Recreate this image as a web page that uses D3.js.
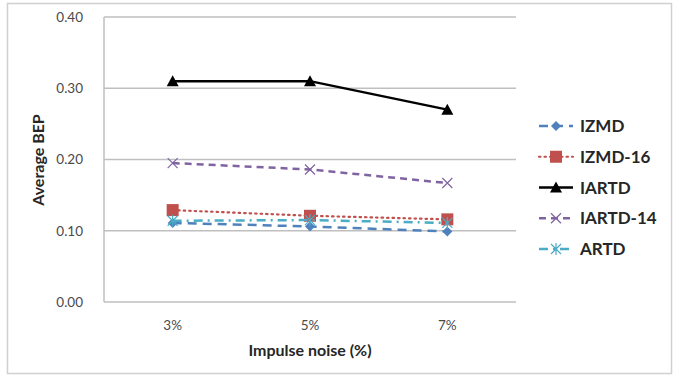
<!DOCTYPE html>
<html><head><meta charset="utf-8">
<script src="https://cdn.jsdelivr.net/npm/d3@7"></script>
<style>body{margin:0;background:#fff}svg{display:block}text{font-family:Lato,"Open Sans",sans-serif}</style>
</head><body><svg id="c" width="679" height="381"></svg>
<script>
const categories = ["3%", "5%", "7%"];
const yTicks = [0, 0.1, 0.2, 0.3, 0.4];
const seriesNames = ["IZMD", "IZMD-16", "IARTD", "IARTD-14", "ARTD"];
const IZMD = [0.111, 0.106, 0.099];
const IZMD16 = [0.129, 0.121, 0.116];
const IARTD = [0.310, 0.310, 0.270];
const IARTD14 = [0.195, 0.186, 0.167];
const ARTD = [0.114, 0.115, 0.111];

const styles = [
  {color:"#4F81BD", dash:"9,6", width:2.5, marker:"diamond"},
  {color:"#C0504D", dash:"1.5,4", width:2.2, marker:"square"},
  {color:"#000000", dash:null, width:2.5, marker:"triangle"},
  {color:"#8064A2", dash:"7,5", width:2.5, marker:"x"},
  {color:"#4BACC6", dash:"9,5,2,5", width:2.5, marker:"star"}
];
const data = [IZMD, IZMD16, IARTD, IARTD14, ARTD];

const svg = d3.select("#c");
svg.append("rect").attr("x",7.5).attr("y",3.5).attr("width",664).attr("height",370)
  .attr("fill","#fff").attr("stroke","#d0d0d0").attr("stroke-width",1.5);

const L=104, R=516, T=17, B=302;
const x = d3.scaleBand().domain(categories).range([L,R]);
const y = d3.scaleLinear().domain([0,0.4]).range([B,T]);

svg.append("g").selectAll("line").data(yTicks).join("line")
  .attr("x1",L).attr("x2",R).attr("y1",d=>y(d)).attr("y2",d=>y(d))
  .attr("stroke","#bfbfbf").attr("stroke-width",1.5);
svg.append("line").attr("x1",L).attr("x2",L).attr("y1",T).attr("y2",B)
  .attr("stroke","#bfbfbf").attr("stroke-width",1.5);

const yAxis = d3.axisLeft(y).tickValues(yTicks).tickFormat(d3.format(".2f")).tickSize(0).tickPadding(21);
const gy = svg.append("g").attr("transform",`translate(${L},0)`).call(yAxis);
gy.select(".domain").remove();
gy.selectAll("text").attr("font-size",13.5).attr("fill","#4a4a4a").style("font-family","Lato, 'Open Sans', sans-serif");

const xAxis = d3.axisBottom(x).tickSize(0).tickPadding(18);
const gx = svg.append("g").attr("transform",`translate(0,${B})`).call(xAxis);
gx.select(".domain").remove();
gx.selectAll("text").attr("font-size",13.5).attr("fill","#4a4a4a").style("font-family","Lato, 'Open Sans', sans-serif");

svg.append("text").attr("x",(L+R)/2).attr("y",356).attr("text-anchor","middle")
  .attr("font-size",16).attr("font-weight","bold").attr("fill","#262626").text("Impulse noise (%)");
svg.append("text").attr("transform","translate(44,160) rotate(-90)").attr("text-anchor","middle")
  .attr("font-size",16).attr("font-weight","bold").attr("fill","#262626").text("Average BEP");

function marker(g, type, color, cx, cy, s){
  s = s||1;
  if(type==="diamond"){
    g.append("path").attr("d",`M${cx},${cy-5*s}L${cx+5*s},${cy}L${cx},${cy+5*s}L${cx-5*s},${cy}Z`).attr("fill",color);
  } else if(type==="square"){
    g.append("rect").attr("x",cx-6*s).attr("y",cy-6*s).attr("width",12*s).attr("height",12*s).attr("fill",color);
  } else if(type==="triangle"){
    g.append("path").attr("d",`M${cx},${cy-6*s}L${cx+6*s},${cy+5*s}L${cx-6*s},${cy+5*s}Z`).attr("fill",color);
  } else if(type==="x"){
    g.append("path").attr("d",`M${cx-5*s},${cy-5*s}L${cx+5*s},${cy+5*s}M${cx-5*s},${cy+5*s}L${cx+5*s},${cy-5*s}`).attr("stroke",color).attr("stroke-width",1.2).attr("fill","none");
  } else if(type==="star"){
    g.append("path").attr("d",`M${cx-5*s},${cy-5*s}L${cx+5*s},${cy+5*s}M${cx-5*s},${cy+5*s}L${cx+5*s},${cy-5*s}M${cx},${cy-6*s}L${cx},${cy+6*s}`).attr("stroke",color).attr("stroke-width",1.2).attr("fill","none");
  }
}

const line = d3.line().x((d,i)=>x(categories[i])+x.bandwidth()/2).y(d=>y(d));
const order = [2,3,1,0,4];
order.forEach(si=>{
  const st = styles[si], vals = data[si];
  const g = svg.append("g");
  g.append("path").datum(vals).attr("d",line).attr("fill","none")
    .attr("stroke",st.color).attr("stroke-width",st.width)
    .attr("stroke-dasharray",st.dash).attr("stroke-linecap",si===1?"round":"butt");
  vals.forEach((v,i)=>marker(g, st.marker, st.color, x(categories[i])+x.bandwidth()/2, y(v)));
});

const legY = d3.scalePoint().domain(seriesNames).range([126,249]);
seriesNames.forEach((n,i)=>{
  const st = styles[i], yy = legY(n);
  const g = svg.append("g");
  g.append("line").attr("x1",539).attr("x2",573).attr("y1",yy).attr("y2",yy)
    .attr("stroke",st.color).attr("stroke-width",st.width).attr("stroke-dasharray",st.dash).attr("stroke-linecap",i===1?"round":"butt");
  marker(g, st.marker, st.color, 556, yy);
  g.append("text").attr("x",580).attr("y",yy+6).attr("font-size",17).attr("font-weight","bold").attr("fill","#262626").text(n);
});
</script></body></html>
